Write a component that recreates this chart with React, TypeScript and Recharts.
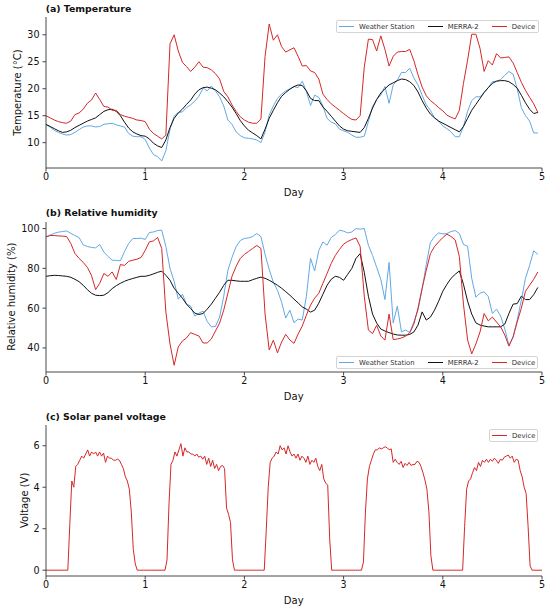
import React from "react";
import { Legend, Line, LineChart, XAxis, YAxis } from "recharts";

const FONT = "DejaVu Sans";
const BLUE = "#62a8e6";
const BLACK = "#111111";
const RED = "#d62728";
const AXIS = "#333333";

const SERIES_NAMES = ["Weather Station", "MERRA-2", "Device"];
const DAY_TICKS = [0, 1, 2, 3, 4, 5];
const TEMP_TICKS = [10, 15, 20, 25, 30];
const RH_TICKS = [40, 60, 80, 100];
const VOLT_TICKS = [0, 2, 4, 6];

// hourly values, one row per day
const WS_TEMP = [
  13.3, 12.9, 12.3, 11.9, 11.6, 11.4, 11.5, 11.9, 12.4, 12.9, 13.1, 13.1, 12.9, 13.0, 13.4, 13.5, 13.6, 13.3, 13.1, 12.9, 11.7, 11.2, 11.1, 11.1,
  10.6, 9.0, 7.8, 7.4, 6.6, 8.5, 12.5, 14.9, 15.6, 15.7, 16.5, 17.0, 17.7, 18.6, 20.1, 19.6, 20.5, 19.6, 18.5, 16.8, 14.2, 13.4, 12.0, 11.3,
  10.9, 10.8, 10.7, 10.5, 10.0, 12.0, 15.1, 16.8, 18.2, 19.0, 19.6, 20.0, 20.4, 20.2, 21.4, 19.5, 16.9, 18.8, 18.4, 16.8, 14.5, 13.8, 13.5, 12.5,
  12.2, 11.9, 11.4, 11.0, 11.0, 11.2, 13.9, 16.7, 18.0, 18.8, 20.4, 17.3, 20.7, 21.6, 23.0, 23.0, 23.8, 22.0, 20.7, 18.8, 17.0, 16.0, 14.6, 14.0,
  13.1, 12.6, 12.0, 11.1, 11.1, 13.0, 15.8, 17.8, 18.5, 18.5, 19.3, 20.2, 21.3, 21.4, 21.7, 22.5, 23.2, 22.7, 20.0, 16.5, 15.0, 14.0, 11.8, 11.8,
];

const MERRA_TEMP = [
  13.4, 13.0, 12.6, 12.2, 11.9, 12.0, 12.3, 12.8, 13.2, 13.6, 14.0, 14.3, 14.6, 15.2, 15.8, 16.1, 16.2, 15.8, 15.0, 13.8, 12.7, 12.0, 11.6, 11.3,
  11.2, 10.7, 9.9, 9.4, 9.1, 10.5, 12.8, 14.5, 15.5, 16.2, 17.1, 17.9, 19.0, 19.8, 20.2, 20.3, 20.1, 19.8, 19.2, 18.5, 17.6, 16.6, 15.4, 14.1,
  13.1, 12.3, 11.8, 11.3, 10.7, 12.5, 14.5, 16.0, 17.4, 18.6, 19.3, 19.9, 20.4, 20.7, 20.6, 19.6, 18.2, 17.8, 17.8, 16.6, 15.8, 14.9, 14.0, 13.1,
  12.5, 12.2, 12.1, 12.0, 11.9, 12.8, 14.5, 16.4, 18.0, 19.2, 20.0, 20.7, 21.1, 21.5, 21.8, 21.7, 21.3, 20.6, 19.4, 17.8, 16.4, 15.3, 14.6, 14.0,
  13.6, 13.2, 12.8, 12.4, 12.0, 13.0, 14.5, 16.0, 17.1, 18.2, 19.3, 20.2, 21.0, 21.4, 21.5, 21.5, 21.3, 20.8, 20.1, 18.8, 17.4, 16.2, 15.4, 15.6,
];

const DEV_TEMP = [
  15.0, 14.6, 14.2, 13.9, 13.7, 13.6, 14.0, 15.2, 15.5, 16.2, 17.3, 17.9, 19.2, 18.0, 16.7, 16.6, 16.0, 16.0, 15.2, 14.9, 14.7, 14.5, 14.2, 14.1,
  13.9, 12.5, 11.7, 11.2, 10.7, 11.4, 28.3, 30.0, 27.0, 24.9, 24.1, 23.2, 24.0, 25.0, 24.0, 23.9, 23.5, 22.8, 21.8, 19.5, 18.5, 17.0, 15.8, 14.8,
  14.2, 13.8, 13.6, 13.6, 14.4, 26.0, 32.0, 29.0, 30.0, 27.8, 26.8, 27.2, 27.6, 26.0, 24.2, 24.3, 23.3, 23.0, 21.8, 19.0, 18.0, 17.2, 16.6, 16.0,
  15.4, 14.8, 14.3, 14.2, 15.0, 24.0, 29.2, 29.1, 27.0, 29.8, 27.3, 24.2, 26.0, 26.8, 26.9, 26.9, 27.3, 25.2, 22.6, 20.3, 18.7, 17.8, 17.2, 16.5,
  15.9, 15.1, 14.7, 14.4, 16.0, 21.0, 25.3, 30.1, 30.1, 27.5, 23.2, 25.2, 24.4, 26.5, 25.7, 25.8, 25.9, 24.8, 23.0, 21.2, 19.7, 18.4, 17.2, 15.6,
];

const WS_RH = [
  95.8, 96.8, 97.6, 98.2, 98.5, 98.8, 97.6, 96.5, 95.5, 91.8, 91.0, 90.5, 90.3, 92.0, 88.2, 86.0, 84.1, 84.0, 83.8, 88.5, 92.5, 95.0, 95.0, 95.2,
  94.5, 98.0, 98.3, 99.0, 99.2, 91.0, 80.0, 73.5, 64.5, 67.0, 62.0, 61.0, 56.0, 57.5, 58.5, 53.3, 50.6, 50.8, 55.5, 66.0, 79.0, 85.5, 91.0, 94.0,
  95.0, 95.3, 96.0, 97.5, 96.0, 87.0, 79.5, 73.0, 69.0, 63.0, 55.0, 59.0, 52.7, 54.5, 54.0, 66.0, 85.0, 78.7, 89.0, 93.3, 91.6, 95.5, 97.0, 99.2,
  98.7, 97.8, 98.3, 100.0, 99.7, 100.0, 91.6, 86.5, 80.5, 74.5, 64.3, 83.0, 52.5, 61.0, 48.1, 49.0, 47.8, 53.1, 59.0, 69.5, 82.0, 93.0, 96.0, 97.8,
  97.3, 97.5, 98.5, 99.0, 97.5, 92.0, 91.1, 75.0, 65.5, 67.5, 68.2, 65.8, 57.3, 59.5, 56.0, 49.5, 41.4, 45.5, 54.0, 64.0, 75.0, 81.5, 88.8, 87.1,
];

const MERRA_RH = [
  76.0, 76.3, 76.5, 76.4, 76.2, 76.0, 75.5, 74.5, 73.3, 71.5, 69.3, 67.5, 66.5, 66.3, 66.5, 67.8, 69.8, 71.3, 72.5, 73.5, 74.3, 74.9, 75.5, 76.0,
  76.0, 76.5, 77.2, 78.0, 78.6, 76.5, 74.0, 70.0, 67.5, 65.0, 62.0, 59.8, 57.5, 56.8, 57.3, 59.5, 62.0, 65.0, 68.0, 71.5, 74.0, 74.0, 73.7, 73.5,
  73.5, 73.5, 74.3, 75.0, 75.6, 75.0, 74.0, 72.8, 71.5, 70.0, 68.3, 66.5, 64.5, 62.6, 60.6, 59.5, 58.0, 59.0, 62.5, 67.0, 71.5, 74.5, 76.0, 75.5,
  74.0, 77.0, 80.0, 85.0, 87.4, 78.0, 66.0, 57.0, 52.5, 49.5, 48.5, 47.7, 47.0, 46.5, 46.4, 46.4, 46.8, 48.0, 51.5, 58.1, 54.0, 55.5, 59.0, 63.5,
  68.5, 72.0, 75.0, 77.0, 78.7, 72.0, 63.5, 57.0, 52.6, 51.5, 51.0, 50.6, 50.6, 50.6, 50.6, 52.0, 57.3, 62.0, 62.3, 66.0, 64.3, 64.3, 66.8, 70.4,
];

const DEV_RH = [
  95.8, 96.5, 96.5, 96.3, 96.2, 96.0, 92.5, 87.5, 85.0, 83.0, 80.5, 76.5, 69.3, 72.5, 77.4, 76.0, 78.2, 74.4, 81.9, 81.5, 83.5, 84.1, 84.6, 85.5,
  89.0, 93.3, 93.8, 95.5, 90.0, 58.0, 42.0, 31.3, 40.5, 43.5, 45.0, 47.7, 46.8, 46.0, 42.5, 42.5, 44.5, 48.5, 52.5, 59.0, 67.5, 76.0, 81.0, 85.0,
  87.0, 88.5, 90.0, 91.5, 90.0, 57.0, 39.0, 43.9, 37.5, 43.0, 46.8, 44.0, 42.3, 47.0, 51.0, 56.5, 61.5, 65.0, 67.5, 72.5, 77.4, 82.5, 86.5, 89.5,
  92.2, 93.5, 94.5, 95.3, 91.0, 66.0, 49.0, 47.2, 51.4, 46.0, 43.9, 57.0, 44.2, 44.5, 45.0, 45.9, 47.6, 52.0, 60.0, 70.0, 79.0, 87.4, 91.0, 93.3,
  95.5, 97.2, 96.0, 94.3, 86.0, 62.0, 44.0, 37.0, 42.0, 48.0, 57.3, 53.6, 55.5, 53.0, 50.6, 46.5, 40.9, 45.5, 53.0, 60.0, 68.5, 71.5, 74.5, 78.2,
];

// solar panel voltage, one value every 0.02 day
const VOLTAGE = [
  0, 0, 0, 0, 0, 0, 0, 0, 0, 0, 0, 0,
  2.2, 4.3, 4.0, 5.0, 5.1, 5.3, 5.5, 5.4, 5.6, 5.8, 5.5, 5.7, 5.6, 5.7, 5.5, 5.7, 5.5, 5.65, 5.2, 5.5, 5.4, 5.4, 5.3, 5.3, 5.35, 5.3, 5.1, 4.9, 4.5, 4.3, 3.9, 2.8, 1.0, 0.3,
  0, 0, 0, 0,
  0, 0, 0, 0, 0, 0, 0, 0, 0, 0, 0,
  0.5, 3.2, 5.1, 5.3, 5.7, 5.5, 5.8, 6.1, 5.5, 5.9, 5.7, 5.7, 5.6, 5.6, 5.5, 5.6, 5.45, 5.5, 5.35, 5.5, 5.1, 5.4, 5.0, 5.3, 4.9, 5.1, 4.8, 5.0, 5.05, 4.9, 3.0, 2.7, 2.3, 0.5,
  0, 0, 0, 0, 0,
  0, 0, 0, 0, 0, 0, 0, 0, 0, 0, 0,
  1.9, 4.0, 5.2, 5.4, 5.5, 5.7, 5.6, 6.0, 5.8, 5.9, 5.6, 6.0, 5.7, 5.5, 5.6, 5.4, 5.6, 5.3, 5.5, 5.4, 5.2, 5.5, 5.1, 5.3, 5.2, 5.4, 5.0, 4.8, 5.1, 4.4, 4.2, 4.1, 1.5,
  0, 0, 0, 0, 0, 0,
  0, 0, 0, 0, 0, 0, 0, 0, 0, 0,
  0.4, 2.8, 4.4, 5.0, 5.3, 5.6, 5.8, 5.8, 5.9, 5.85, 5.9, 5.95, 5.9, 5.8, 5.85, 5.2, 5.35, 5.2, 5.1, 5.25, 4.95, 5.15, 5.05, 5.2, 5.05, 5.1, 5.1, 5.25, 5.2, 5.0, 4.7, 4.35, 3.9, 2.8, 0.7,
  0, 0, 0, 0, 0,
  0, 0, 0, 0, 0, 0, 0, 0, 0, 0, 0,
  2.1, 3.9, 4.3, 4.4, 4.7, 4.95, 4.8, 5.2, 5.0, 5.3, 5.2, 5.35, 5.2, 5.35, 5.25, 5.4, 5.3, 5.15, 5.35, 5.3, 5.45, 5.5, 5.55, 5.4, 5.5, 5.2, 5.35, 5.3, 4.8, 4.5, 4.0, 3.7, 2.1, 0.2,
  0, 0, 0, 0, 0, 0,
];

const hourly = WS_TEMP.map((_, i) => ({
  day: i / 24,
  wsT: WS_TEMP[i],
  merraT: MERRA_TEMP[i],
  devT: DEV_TEMP[i],
  wsRH: WS_RH[i],
  merraRH: MERRA_RH[i],
  devRH: DEV_RH[i],
}));

const voltData = VOLTAGE.map((v, i) => ({ day: i * 0.02, volt: v }));

const tickStyle = { fontSize: 9.6, fontFamily: FONT, fill: "#111" };

function LegendBox(props: any) {
  const items = [...(props.payload || [])].sort(
    (a: any, b: any) => SERIES_NAMES.indexOf(a.value) - SERIES_NAMES.indexOf(b.value)
  );
  return (
    <div
      style={{
        display: "flex",
        alignItems: "center",
        boxSizing: "border-box",
        height: 13,
        background: "#fff",
        border: "1px solid #d4d4d4",
        borderRadius: 2,
        padding: "0 3px 0 2px",
        fontFamily: FONT,
        fontSize: 6.9,
        color: "#333",
        whiteSpace: "nowrap",
      }}
    >
      {items.map((p: any, i: number) => (
        <span
          key={p.value}
          style={{ display: "flex", alignItems: "center", marginRight: i < items.length - 1 ? 13 : 0 }}
        >
          <span style={{ width: 15, height: 0, borderTop: `1.2px solid ${p.color}`, marginRight: 5 }} />
          {p.value}
        </span>
      ))}
    </div>
  );
}

function DayAxis() {
  return (
    <XAxis
      type="number"
      dataKey="day"
      domain={[0, 5]}
      ticks={DAY_TICKS}
      tick={tickStyle}
      tickSize={3.5}
      tickMargin={2}
      height={20}
      axisLine={{ stroke: AXIS, strokeWidth: 0.9 }}
      tickLine={{ stroke: AXIS, strokeWidth: 0.9 }}
    />
  );
}

export default function App() {
  const yAxisProps = {
    type: "number" as const,
    width: 46,
    tick: tickStyle,
    tickSize: 3.5,
    tickMargin: 3,
    allowDataOverflow: true,
    axisLine: { stroke: AXIS, strokeWidth: 0.9 },
    tickLine: { stroke: AXIS, strokeWidth: 0.9 },
  };

  return (
    <div style={{ position: "absolute", left: 0, top: 0, width: 550, height: 611, background: "#fff" }}>
      <div style={{ position: "absolute", left: 0, top: 0 }}>
        <LineChart width={550} height={200} data={hourly} margin={{ top: 17, right: 8, bottom: 12, left: 0 }}>
          {DayAxis()}
          <YAxis {...yAxisProps} domain={[5.3, 33.3]} ticks={TEMP_TICKS} />
          <Line dataKey="wsT" name="Weather Station" stroke={BLUE} strokeWidth={1} dot={false} isAnimationActive={false} />
          <Line dataKey="merraT" name="MERRA-2" stroke={BLACK} strokeWidth={1} dot={false} isAnimationActive={false} />
          <Line dataKey="devT" name="Device" stroke={RED} strokeWidth={1} dot={false} isAnimationActive={false} />
          <Legend
            content={LegendBox}
            layout="horizontal"
            align="center"
            verticalAlign="middle"
            wrapperStyle={{ left: 336, top: 20, width: 203, height: 13 }}
          />
        </LineChart>
      </div>

      <div style={{ position: "absolute", left: 0, top: 200 }}>
        <LineChart width={550} height={210} data={hourly} margin={{ top: 22, right: 8, bottom: 18, left: 0 }}>
          {DayAxis()}
          <YAxis {...yAxisProps} domain={[27.9, 103.3]} ticks={RH_TICKS} />
          <Line dataKey="wsRH" name="Weather Station" stroke={BLUE} strokeWidth={1} dot={false} isAnimationActive={false} />
          <Line dataKey="merraRH" name="MERRA-2" stroke={BLACK} strokeWidth={1} dot={false} isAnimationActive={false} />
          <Line dataKey="devRH" name="Device" stroke={RED} strokeWidth={1} dot={false} isAnimationActive={false} />
          <Legend
            content={LegendBox}
            layout="horizontal"
            align="center"
            verticalAlign="middle"
            wrapperStyle={{ left: 336, top: 156, width: 202, height: 13 }}
          />
        </LineChart>
      </div>

      <div style={{ position: "absolute", left: 0, top: 410 }}>
        <LineChart width={550} height={201} data={voltData} margin={{ top: 15, right: 8, bottom: 15, left: 0 }}>
          {DayAxis()}
          <YAxis {...yAxisProps} domain={[-0.28, 7.0]} ticks={VOLT_TICKS} />
          <Line dataKey="volt" name="Device" stroke={RED} strokeWidth={1} dot={false} isAnimationActive={false} />
          <Legend
            content={LegendBox}
            layout="horizontal"
            align="center"
            verticalAlign="middle"
            wrapperStyle={{ left: 489, top: 19, width: 49, height: 13 }}
          />
        </LineChart>
      </div>

      <svg
        width={550}
        height={611}
        style={{ position: "absolute", left: 0, top: 0, pointerEvents: "none" }}
        fontFamily={FONT}
      >
        <g fontWeight="bold" fontSize={9.4} fill="#111">
          <text x={45.7} y={8.3} dominantBaseline="central">(a) Temperature</text>
          <text x={45.7} y={212.7} dominantBaseline="central">(b) Relative humidity</text>
          <text x={45.7} y={416.7} dominantBaseline="central">(c) Solar panel voltage</text>
        </g>
        <g fontSize={10} fill="#111" textAnchor="middle">
          <text x={293.7} y={192.7} dominantBaseline="central">Day</text>
          <text x={293.7} y={396} dominantBaseline="central">Day</text>
          <text x={293.7} y={600.7} dominantBaseline="central">Day</text>
          <text transform="translate(17.5,92.5) rotate(-90)" dominantBaseline="central">Temperature (°C)</text>
          <text transform="translate(11.7,296.7) rotate(-90)" dominantBaseline="central">Relative humidity (%)</text>
          <text transform="translate(24.3,500.3) rotate(-90)" dominantBaseline="central">Voltage (V)</text>
        </g>
      </svg>
    </div>
  );
}
